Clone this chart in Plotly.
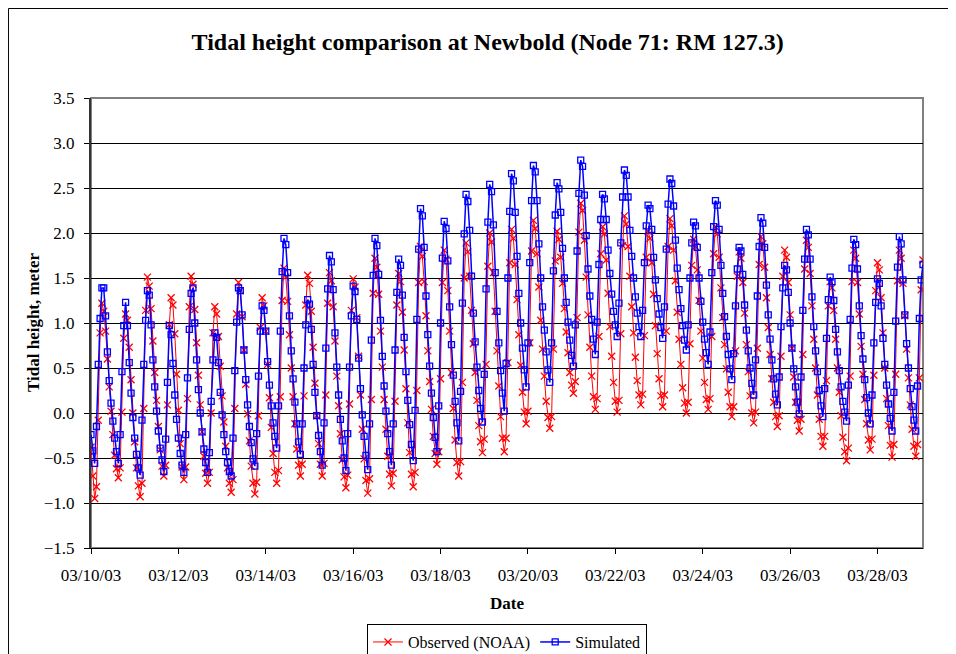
import plotly.graph_objects as go
import pandas as pd

# Hourly tidal heights (m), starting 03/10/2003 00:00
start = "2003-03-10 00:00"

observed = [
    -0.38, -0.70,
    -0.95, -0.82, -0.08, 0.89, 1.22, 1.13, 0.91, 0.60, 0.29, 0.02, -0.24, -0.47, -0.62,
    -0.72, -0.61, 0.01, 0.83, 1.10, 1.03, 0.73, 0.37, 0.00, -0.32, -0.61, -0.81,
    -0.93, -0.78, 0.05, 1.14, 1.51, 1.41, 1.16, 0.80, 0.45, 0.14, -0.15, -0.41, -0.59,
    -0.70, -0.58, 0.09, 0.98, 1.28, 1.20, 0.88, 0.43, 0.03, -0.34, -0.60,
    -0.74, -0.60, 0.16, 1.18, 1.52, 1.43, 1.15, 0.78, 0.42, 0.09, -0.21, -0.48, -0.67,
    -0.78, -0.66, 0.00, 0.89, 1.18, 1.10, 0.85, 0.52, 0.19, -0.10, -0.37, -0.61, -0.78,
    -0.88, -0.74, 0.05, 1.10, 1.45, 1.36, 1.07, 0.70, 0.32, -0.01, -0.31, -0.59, -0.78,
    -0.90, -0.77, -0.03, 0.95, 1.28, 1.19, 0.91, 0.54, 0.17, -0.16, -0.45, -0.66,
    -0.78, -0.64, 0.18, 1.25, 1.61, 1.51, 1.24, 0.87, 0.50, 0.18, -0.12, -0.40, -0.58,
    -0.70, -0.57, 0.19, 1.20, 1.53, 1.44, 1.13, 0.73, 0.33, -0.03, -0.34, -0.57,
    -0.70, -0.56, 0.20, 1.22, 1.56, 1.47, 1.18, 0.80, 0.41, 0.08, -0.23, -0.52, -0.71,
    -0.83, -0.69, 0.10, 1.14, 1.49, 1.40, 1.06, 0.63, 0.20, -0.18, -0.51, -0.75,
    -0.89, -0.73, 0.15, 1.33, 1.72, 1.62, 1.32, 0.91, 0.51, 0.15, -0.18, -0.48, -0.68,
    -0.81, -0.67, 0.13, 1.20, 1.55, 1.46, 1.12, 0.70, 0.27, -0.11, -0.44, -0.68,
    -0.82, -0.66, 0.25, 1.45, 1.85, 1.74, 1.46, 1.08, 0.69, 0.35, 0.04, -0.26, -0.45,
    -0.57, -0.43, 0.38, 1.45, 1.81, 1.71, 1.36, 0.91, 0.45, 0.05, -0.30, -0.55,
    -0.70, -0.54, 0.34, 1.50, 1.89, 1.79, 1.52, 1.14, 0.77, 0.45, 0.14, -0.14, -0.32,
    -0.44, -0.29, 0.54, 1.63, 2.00, 1.90, 1.56, 1.13, 0.69, 0.30, -0.04, -0.28,
    -0.43, -0.28, 0.56, 1.67, 2.04, 1.94, 1.65, 1.26, 0.87, 0.53, 0.23, 0.01,
    -0.12, 0.02, 0.78, 1.80, 2.14, 2.05, 1.77, 1.40, 1.03, 0.71, 0.41, 0.13, -0.05,
    -0.17, -0.04, 0.71, 1.69, 2.02, 1.93, 1.73, 1.44, 1.16, 0.90, 0.67, 0.45, 0.31,
    0.22, 0.35, 1.06, 2.01, 2.33, 2.25, 1.92, 1.51, 1.09, 0.73, 0.41, 0.18,
    0.04, 0.16, 0.85, 1.77, 2.07, 1.99, 1.70, 1.33, 0.96, 0.63, 0.34, 0.13,
    0.01, 0.14, 0.88, 1.86, 2.19, 2.10, 1.85, 1.52, 1.18, 0.89, 0.62, 0.36, 0.20,
    0.09, 0.21, 0.86, 1.73, 2.02, 1.94, 1.67, 1.32, 0.97, 0.66, 0.38, 0.19,
    0.07, 0.20, 0.91, 1.85, 2.16, 2.08, 1.81, 1.47, 1.12, 0.82, 0.54, 0.28, 0.11,
    0.00, 0.12, 0.77, 1.64, 1.93, 1.85, 1.59, 1.25, 0.91, 0.61, 0.34, 0.15,
    0.04, 0.16, 0.85, 1.77, 2.07, 1.99, 1.73, 1.39, 1.06, 0.76, 0.49, 0.23, 0.07,
    -0.04, 0.07, 0.69, 1.52, 1.79, 1.72, 1.45, 1.11, 0.76, 0.46, 0.19, 0.00,
    -0.11, 0.01, 0.72, 1.65, 1.96, 1.88, 1.62, 1.28, 0.95, 0.65, 0.38, 0.12, -0.04,
    -0.15, -0.03, 0.63, 1.52, 1.81, 1.73, 1.45, 1.09, 0.72, 0.40, 0.12, -0.08,
    -0.20, -0.07, 0.65, 1.60, 1.92, 1.84, 1.55, 1.19, 0.82, 0.50, 0.20, -0.07, -0.26,
    -0.37, -0.26, 0.36, 1.19, 1.46, 1.39, 1.14, 0.82, 0.50, 0.23, -0.03, -0.27, -0.43,
    -0.53, -0.39, 0.41, 1.46, 1.81, 1.72, 1.45, 1.10, 0.74, 0.43, 0.15, -0.12, -0.30,
    -0.41, -0.29, 0.42, 1.36, 1.67, 1.59, 1.28, 0.89, 0.50, 0.16, -0.14, -0.36,
    -0.49, -0.35, 0.43, 1.47, 1.81, 1.72, 1.44, 1.08, 0.71, 0.39, 0.09, -0.18, -0.37,
    -0.48, -0.35, 0.39, 1.37, 1.70,
]

simulated = [
    -0.24, -0.42, -0.56, -0.15, 0.54, 1.05, 1.39, 1.39, 1.08, 0.68,
    0.36, 0.11, -0.09, -0.28, -0.43, -0.56, -0.24, 0.46, 0.97, 1.23,
    0.97, 0.56, 0.22, -0.05, -0.28, -0.46, -0.61, -0.69, -0.08, 0.54,
    1.03, 1.36, 1.31, 0.98, 0.59, 0.29, 0.02, -0.20, -0.39, -0.52,
    -0.65, -0.29, 0.34, 0.97, 0.87, 0.55, 0.20, -0.07, -0.28, -0.45,
    -0.58, -0.66, -0.24, 0.39, 0.93, 1.33, 1.39, 1.00, 0.59, 0.26,
    0.00, -0.21, -0.40, -0.55, -0.66, -0.44, 0.13, 0.59, 0.89, 0.84,
    0.56, 0.23, -0.02, -0.24, -0.43, -0.55, -0.65, -0.70, -0.28, 0.47,
    1.01, 1.39, 1.36, 1.09, 0.70, 0.37, 0.09, -0.15, -0.33, -0.51,
    -0.59, -0.23, 0.41, 0.91, 1.19, 1.14, 0.91, 0.57, 0.31, 0.08, -0.11, -0.26,
    -0.39, 0.08, 0.91, 1.57, 1.94, 1.87, 1.56, 1.08, 0.69, 0.38, 0.12, -0.12, -0.32,
    -0.46, -0.12, 0.50, 0.98, 1.26, 1.21, 0.93, 0.54, 0.23, -0.03, -0.25, -0.43,
    -0.58, -0.11, 0.72, 1.38, 1.75, 1.68, 1.37, 0.89, 0.51, 0.20, -0.07, -0.31, -0.50,
    -0.64, -0.23, 0.51, 1.08, 1.41, 1.35, 1.04, 0.61, 0.27, -0.02, -0.26, -0.47,
    -0.63, -0.12, 0.81, 1.53, 1.94, 1.86, 1.54, 1.03, 0.63, 0.30, 0.02, -0.23, -0.43,
    -0.58, -0.12, 0.70, 1.34, 1.71, 1.64, 1.31, 0.84, 0.46, 0.14, -0.13, -0.35,
    -0.53, 0.03, 1.04, 1.82, 2.27, 2.19, 1.84, 1.30, 0.87, 0.52, 0.22, -0.05, -0.27,
    -0.43, 0.08, 1.00, 1.72, 2.13, 2.05, 1.69, 1.18, 0.76, 0.42, 0.13, -0.11,
    -0.31, 0.24, 1.22, 1.99, 2.43, 2.35, 2.03, 1.52, 1.11, 0.79, 0.51, 0.25, 0.05,
    -0.10, 0.43, 1.38, 2.12, 2.54, 2.46, 2.09, 1.56, 1.13, 0.78, 0.47, 0.22,
    0.02, 0.55, 1.50, 2.24, 2.66, 2.58, 2.23, 1.74, 1.33, 1.00, 0.72, 0.48,
    0.29, 0.78, 1.67, 2.36, 2.75, 2.68, 2.36, 1.88, 1.50, 1.18, 0.92, 0.68, 0.48,
    0.34, 0.78, 1.58, 2.20, 2.56, 2.49, 2.23, 1.83, 1.50, 1.23, 1.01, 0.81, 0.64,
    0.52, 0.98, 1.80, 2.44, 2.81, 2.74, 2.42, 1.97, 1.60, 1.30, 1.04, 0.82,
    0.65, 1.01, 1.65, 2.15, 2.43, 2.38, 2.15, 1.81, 1.55, 1.32, 1.13, 0.98,
    0.85, 1.22, 1.89, 2.40, 2.70, 2.64, 2.40, 2.03, 1.74, 1.50, 1.29, 1.11, 0.96,
    0.85, 1.14, 1.67, 2.08, 2.31, 2.27, 2.04, 1.73, 1.48, 1.27, 1.10, 0.95,
    0.83, 1.18, 1.82, 2.32, 2.60, 2.55, 2.30, 1.92, 1.61, 1.37, 1.16, 0.97, 0.81,
    0.70, 0.98, 1.50, 1.89, 2.12, 2.08, 1.84, 1.50, 1.24, 1.01, 0.82, 0.67,
    0.54, 0.90, 1.56, 2.07, 2.36, 2.31, 2.04, 1.64, 1.33, 1.07, 0.85, 0.65, 0.49,
    0.37, 0.66, 1.19, 1.60, 1.84, 1.80, 1.54, 1.20, 0.92, 0.69, 0.50, 0.33,
    0.20, 0.59, 1.30, 1.85, 2.17, 2.11, 1.84, 1.42, 1.09, 0.82, 0.59, 0.38, 0.21,
    0.09, 0.40, 0.96, 1.39, 1.64, 1.59, 1.34, 1.00, 0.72, 0.49, 0.29, 0.12,
    -0.01, 0.40, 1.14, 1.71, 2.04, 1.98, 1.71, 1.29, 0.96, 0.69, 0.46, 0.25, 0.08,
    -0.04, 0.27, 0.83, 1.26, 1.51, 1.46, 1.25, 0.93, 0.68, 0.47, 0.29, 0.13, 0.01,
    -0.09, 0.31, 1.04, 1.61, 1.93, 1.87, 1.60, 1.19, 0.86, 0.60, 0.37, 0.17, 0.00,
    -0.12, 0.20, 0.78, 1.23, 1.49, 1.44, 1.19, 0.83, 0.54, 0.31, 0.10, -0.06,
    -0.20, 0.23, 1.02, 1.62, 1.96, 1.88, 1.48, 1.09, 0.77, 0.50, 0.27, 0.07, -0.08,
    -0.20, 0.30, 1.05, 1.48, 1.65,
]

tick_dates = ["2003-03-10", "2003-03-12", "2003-03-14", "2003-03-16", "2003-03-18",
              "2003-03-20", "2003-03-22", "2003-03-24", "2003-03-26", "2003-03-28"]

print(len(observed), len(simulated))

temps_obs = pd.date_range(start, periods=len(observed), freq="h")
temps_sim = pd.date_range(start, periods=len(simulated), freq="h")

serif = "Liberation Serif, Times New Roman, serif"

fig = go.Figure()
fig.add_trace(go.Scatter(
    x=temps_obs, y=observed, mode="lines+markers", name="Observed (NOAA)",
    line=dict(color="#ff0000", width=1),
    marker=dict(symbol="x-thin", size=7, line=dict(color="#ff0000", width=1.3)),
))
fig.add_trace(go.Scatter(
    x=temps_sim, y=simulated, mode="lines+markers", name="Simulated",
    line=dict(color="#0000ff", width=1.5),
    marker=dict(symbol="square-open", size=6, color="#0000ff", line=dict(width=1.3)),
))

fig.update_xaxes(
    type="date", range=["2003-03-10 00:00", "2003-03-29 01:00"],
    tickvals=tick_dates, tickformat="%m/%d/%y",
    ticks="outside", ticklen=5, tickcolor="black", ticklabelstandoff=7,
    showgrid=False, showline=True, linecolor="black", linewidth=1,
    zeroline=False, tickfont=dict(family=serif, size=17, color="black"),
)
fig.update_yaxes(
    range=[-1.5, 3.5], dtick=0.5, tickformat=".1f",
    ticks="outside", ticklen=5, tickcolor="black", ticklabelstandoff=6,
    showgrid=True, gridcolor="black", gridwidth=1,
    showline=True, linecolor="#333333", linewidth=2,
    zeroline=False, tickfont=dict(family=serif, size=17, color="black"),
)

# the page body adds an 8 px margin, so the figure is sized to what is visible
fig.update_layout(
    width=948, height=646,
    margin=dict(l=83, r=33, t=90, b=106, autoexpand=False),
    paper_bgcolor="white", plot_bgcolor="white",
    title=dict(text="Tidal height comparison at Newbold (Node 71: RM 127.3)",
               x=0.506, xanchor="center", y=1 - 34 / 646, yanchor="middle",
               font=dict(family=serif, size=24, color="black", weight="bold")),
    showlegend=True,
    legend=dict(orientation="h", x=0.5, xanchor="center", y=-0.169, yanchor="top",
                bordercolor="black", borderwidth=1, bgcolor="white",
                font=dict(family=serif, size=16, color="black"),
                itemwidth=30, tracegroupgap=0),
    shapes=[
        # plot area frame
        dict(type="rect", xref="paper", yref="paper", x0=0, x1=1, y0=0, y1=1,
             line=dict(color="#808080", width=2), layer="below"),
        # chart area frame
        dict(type="rect", xref="paper", yref="paper", x0=-0.0992, x1=1.1, y0=-0.3, y1=1.1989,
             line=dict(color="black", width=1)),
    ],
    annotations=[
        dict(text="Tidal height, meter", xref="paper", yref="paper", x=-0.0697, y=0.5,
             textangle=-90, showarrow=False, xanchor="center", yanchor="middle",
             font=dict(family=serif, size=17, color="black", weight="bold")),
        dict(text="Date", xref="paper", yref="paper", x=0.5, y=-0.1244,
             showarrow=False, xanchor="center", yanchor="middle",
             font=dict(family=serif, size=17, color="black", weight="bold")),
    ],
)

fig.write_html("out.html")
